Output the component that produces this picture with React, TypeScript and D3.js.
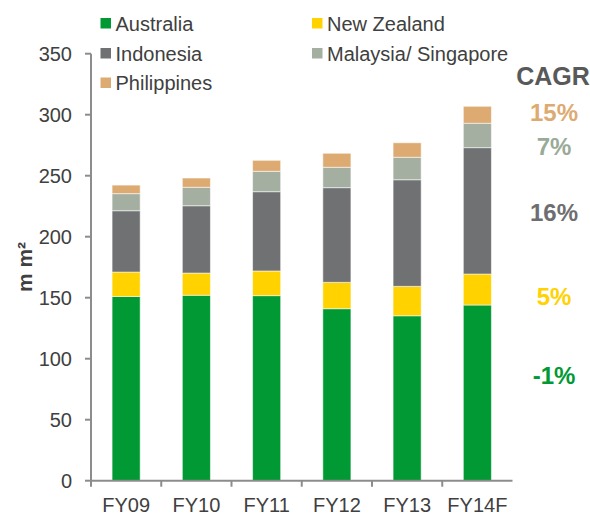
import React from "react";
import * as d3 from "d3";

// years and series values (m m²)
const years = ["FY09", "FY10", "FY11", "FY12", "FY13", "FY14F"];
const australia = [151, 152, 151.7, 141, 135.2, 144];
const newZealand = [20, 18.2, 20.2, 21.6, 24.1, 25.4];
const indonesia = [50.3, 55.2, 65, 77.6, 87.4, 103.6];
const malaysiaSingapore = [14, 15.1, 16.7, 16.7, 18.4, 20];
const philippines = [7, 7.6, 9, 11.5, 11.9, 13.9];

const seriesNames = ["Australia", "New Zealand", "Indonesia", "Malaysia/ Singapore", "Philippines"];
const seriesColors = ["#009933", "#FFD200", "#707173", "#A4AFA2", "#DDAB71"];
const yTicks = [0, 50, 100, 150, 200, 250, 300, 350];

// CAGR labels, top to bottom
const cagrLabels = ["15%", "7%", "16%", "5%", "-1%"];
const cagrColors = ["#DDAB71", "#9AAA98", "#6E6E70", "#FFD200", "#009933"];
const cagrY = [112, 146, 212, 296, 375];

export default function App() {
  const width = 590;
  const height = 514;
  const left = 91;
  const right = 512.5;
  const top = 53.7;
  const bottom = 480.7;
  const font = "Arial, 'Liberation Sans', sans-serif";

  const rows = years.map((y, i) => ({
    year: y,
    Australia: australia[i],
    "New Zealand": newZealand[i],
    Indonesia: indonesia[i],
    "Malaysia/ Singapore": malaysiaSingapore[i],
    Philippines: philippines[i],
  }));

  const stack = d3.stack<any>().keys(seriesNames)(rows);

  const x = d3.scaleBand().domain(years).range([left, right]).paddingInner(0.6).paddingOuter(0.3);
  const y = d3.scaleLinear().domain([0, 350]).range([bottom, top]);
  const step = x.step();

  // legend: two columns, three rows
  const legendPos = [
    [100.5, 23.5],
    [312, 23.5],
    [100.5, 53.5],
    [312, 53.5],
    [100.5, 83],
  ];

  return (
    <svg width={width} height={height} style={{ position: "absolute", left: 0, top: 0 }} fontFamily={font}>
      {/* bars */}
      {stack.map((s, si) => (
        <g key={si} fill={seriesColors[si]}>
          {s.map((d, i) => (
            <rect
              key={i}
              x={x(years[i])}
              width={x.bandwidth()}
              y={y(d[1])}
              height={y(d[0]) - y(d[1])}
              stroke="#ffffff"
              strokeOpacity={0.55}
              strokeWidth={1}
            />
          ))}
        </g>
      ))}

      {/* y axis */}
      <line x1={left} x2={left} y1={top} y2={bottom} stroke="#8c8c8c" strokeWidth={2} />
      {yTicks.map((t) => (
        <g key={t}>
          <line x1={left - 6} x2={left} y1={y(t)} y2={y(t)} stroke="#8c8c8c" strokeWidth={2} />
          <text x={72} y={y(t)} dy="0.36em" textAnchor="end" fontSize={20} fill="#404040">
            {t}
          </text>
        </g>
      ))}

      {/* x axis */}
      <line x1={left} x2={right} y1={bottom} y2={bottom} stroke="#8c8c8c" strokeWidth={2} />
      {years.map((yr, i) => (
        <line
          key={i}
          x1={left + i * step}
          x2={left + i * step}
          y1={bottom}
          y2={bottom + 6}
          stroke="#8c8c8c"
          strokeWidth={2}
        />
      ))}
      {years.map((yr) => (
        <text key={yr} x={(x(yr) as number) + x.bandwidth() / 2} y={511.5} textAnchor="middle" fontSize={20} fill="#404040">
          {yr}
        </text>
      ))}

      {/* y title */}
      <text
        transform={`translate(32, 267) rotate(-90)`}
        textAnchor="middle"
        fontSize={21}
        fontWeight="bold"
        fill="#404040"
      >
        m m²
      </text>

      {/* legend */}
      {seriesNames.map((n, i) => (
        <g key={n} transform={`translate(${legendPos[i][0]}, ${legendPos[i][1]})`}>
          <rect x={0} y={-5.5} width={10.5} height={10.5} fill={seriesColors[i]} />
          <text x={15} y={0} dy="0.36em" fontSize={20} fill="#404040">
            {n}
          </text>
        </g>
      ))}

      {/* CAGR */}
      <text x={553} y={75.5} dy="0.36em" textAnchor="middle" fontSize={25} fontWeight="bold" fill="#595959">
        CAGR
      </text>
      {cagrLabels.map((c, i) => (
        <text key={c} x={554} y={cagrY[i]} dy="0.36em" textAnchor="middle" fontSize={24} fontWeight="bold" fill={cagrColors[i]}>
          {c}
        </text>
      ))}
    </svg>
  );
}
